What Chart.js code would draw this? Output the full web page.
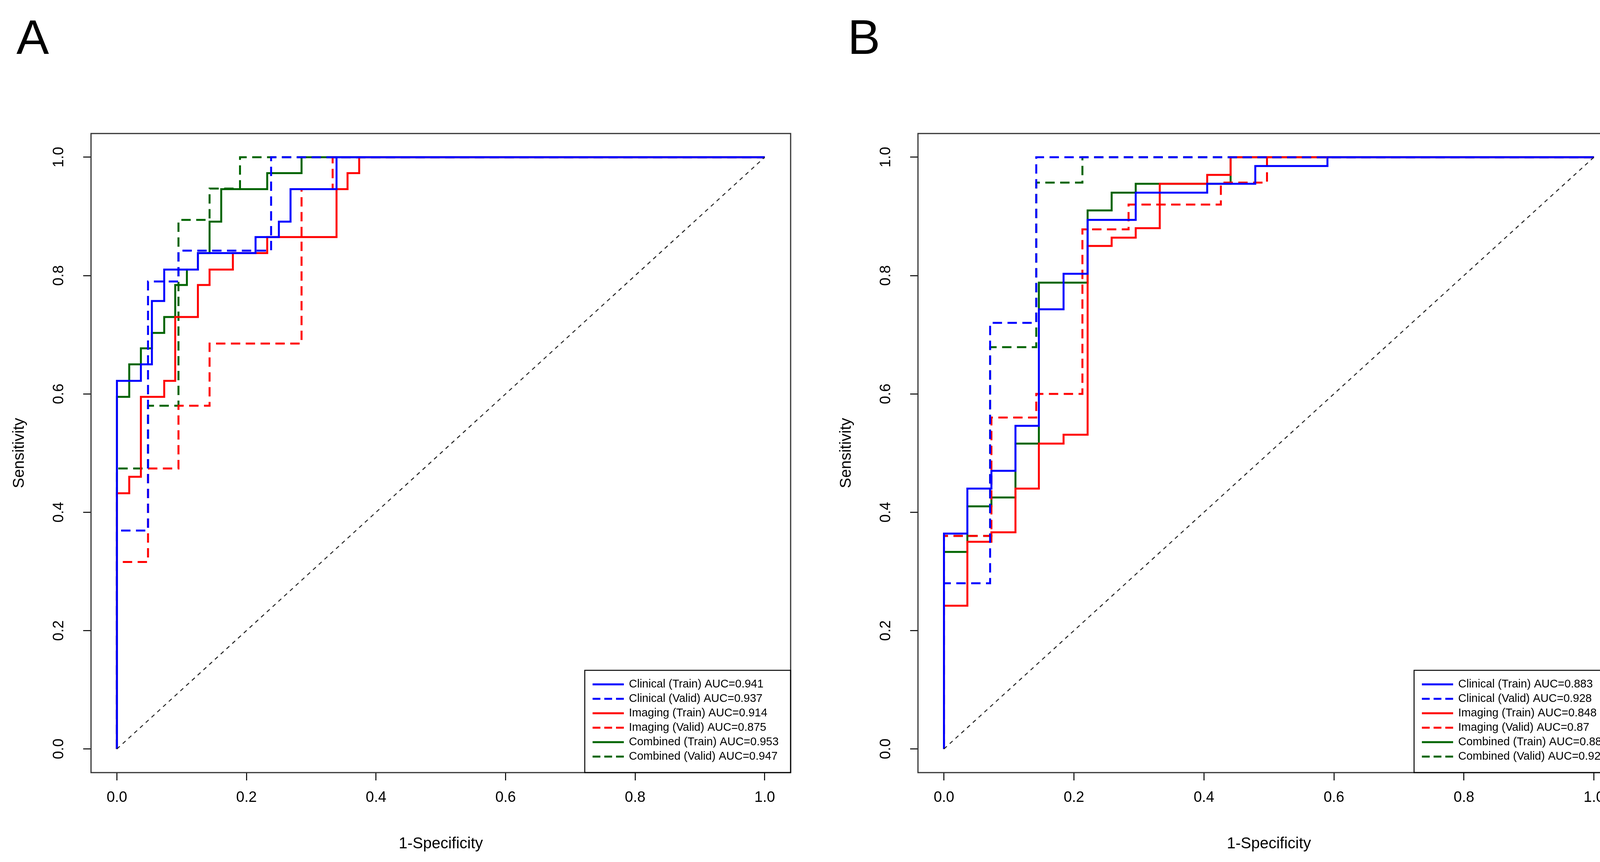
<!DOCTYPE html>
<html><head><meta charset="utf-8">
<script src="https://cdn.jsdelivr.net/npm/chart.js@4"></script>
<style>
body{margin:0;background:#fff;width:4179px;height:2208px;overflow:hidden;position:relative;font-family:"Liberation Sans",Arial,sans-serif}
canvas{position:absolute;top:0}
.lab{position:absolute;font-size:125px;color:#000;line-height:1}
</style></head><body>
<div class="lab" style="left:42px;top:32px">A</div>
<div class="lab" style="left:2170px;top:32px">B</div>
<canvas id="a" width="2090" height="2208" style="left:0"></canvas>
<canvas id="b" width="2062" height="2208" style="left:2117px"></canvas>
<script>
const tickValues=[0,0.2,0.4,0.6,0.8,1.0];
const labelsA=["Clinical (Train) AUC=0.941","Clinical (Valid) AUC=0.937","Imaging (Train) AUC=0.914","Imaging (Valid) AUC=0.875","Combined (Train) AUC=0.953","Combined (Valid) AUC=0.947"];
const labelsB=["Clinical (Train) AUC=0.883","Clinical (Valid) AUC=0.928","Imaging (Train) AUC=0.848","Imaging (Valid) AUC=0.87","Combined (Train) AUC=0.886","Combined (Valid) AUC=0.928"];
// Panel A
const A_clinTrain_fpr=[0,0,0.037,0.054,0.073,0.125,0.214,0.25,0.268,0.339,1];
const A_clinTrain_tpr=[0,0.622,0.65,0.757,0.81,0.838,0.865,0.891,0.946,1,1];
const A_clinValid_fpr=[0,0,0.048,0.095,0.238,1];
const A_clinValid_tpr=[0,0.369,0.79,0.842,1,1];
const A_imgTrain_fpr=[0,0,0.019,0.037,0.073,0.09,0.125,0.143,0.179,0.232,0.339,0.356,0.374,1];
const A_imgTrain_tpr=[0,0.432,0.46,0.595,0.622,0.73,0.784,0.81,0.838,0.865,0.946,0.973,1,1];
const A_imgValid_fpr=[0,0,0.048,0.095,0.143,0.285,0.333,1];
const A_imgValid_tpr=[0,0.316,0.474,0.58,0.685,0.946,1,1];
const A_combTrain_fpr=[0,0,0.019,0.037,0.054,0.073,0.09,0.108,0.125,0.143,0.161,0.232,0.285,1];
const A_combTrain_tpr=[0,0.595,0.65,0.677,0.703,0.73,0.784,0.81,0.838,0.891,0.946,0.973,1,1];
const A_combValid_fpr=[0,0,0.048,0.095,0.143,0.19,1];
const A_combValid_tpr=[0,0.474,0.58,0.894,0.947,1,1];
// Panel B
const B_clinTrain_fpr=[0,0,0.036,0.073,0.110,0.146,0.184,0.221,0.295,0.405,0.479,0.59,1];
const B_clinTrain_tpr=[0,0.364,0.44,0.47,0.546,0.743,0.803,0.894,0.94,0.955,0.985,1,1];
const B_clinValid_fpr=[0,0,0.071,0.142,1];
const B_clinValid_tpr=[0,0.28,0.72,1,1];
const B_imgTrain_fpr=[0,0,0.036,0.073,0.110,0.146,0.184,0.221,0.258,0.295,0.332,0.405,0.441,1];
const B_imgTrain_tpr=[0,0.242,0.35,0.366,0.44,0.516,0.531,0.85,0.864,0.88,0.955,0.97,1,1];
const B_imgValid_fpr=[0,0,0.073,0.142,0.213,0.284,0.426,0.497,1];
const B_imgValid_tpr=[0,0.36,0.56,0.60,0.878,0.92,0.957,1,1];
const B_combTrain_fpr=[0,0,0.036,0.073,0.110,0.146,0.221,0.258,0.295,0.441,1];
const B_combTrain_tpr=[0,0.333,0.41,0.425,0.516,0.788,0.91,0.94,0.955,1,1];
const B_combValid_fpr=[0,0,0.071,0.142,0.213,1];
const B_combValid_tpr=[0,0.36,0.679,0.957,1,1];
const diag=[0,1];

const FONT='"Liberation Sans", Arial, sans-serif';
const pts=(xs,ys)=>xs.map((x,i)=>({x,y:ys[i]}));
const styles=[["#0000FF",[]],["#0000FF",[24,14]],["#FF0000",[]],["#FF0000",[24,14]],["#006400",[]],["#006400",[24,14]]];

function build(id,labels,series,padRight){
  const ds=series.map((s,i)=>({label:labels[i],data:pts(s[0],s[1]),borderColor:styles[i][0],borderDash:styles[i][1],borderWidth:5,stepped:'before',pointRadius:0,fill:false}));
  ds.unshift({label:'_diag',data:pts(diag,diag),borderColor:'#222',borderDash:[10,10],borderWidth:2.5,pointRadius:0});
  const plugin={id:'extra'+id,afterDraw(c){
    const ctx=c.ctx,ca=c.chartArea,ys=c.scales.y;
    ctx.save();
    ctx.strokeStyle='#333';ctx.lineWidth=3;ctx.setLineDash([]);
    ctx.strokeRect(ca.left,ca.top,ca.right-ca.left,ca.bottom-ca.top);
    ctx.fillStyle='#000';ctx.font='38px '+FONT;ctx.textAlign='center';ctx.textBaseline='middle';
    tickValues.forEach(v=>{const y=ys.getPixelForValue(v);ctx.save();ctx.translate(152,y);ctx.rotate(-Math.PI/2);ctx.fillText(v.toFixed(1),0,0);ctx.restore();});
    const rowH=37,w=527,h=262;const lx=ca.right-w,ly=ca.bottom-h;
    ctx.strokeStyle='#000';ctx.lineWidth=2.5;ctx.strokeRect(lx,ly,w,h);
    ctx.font='29px '+FONT;ctx.textAlign='left';
    labels.forEach((t,i)=>{const yy=ly+28+i*rowH+8;ctx.strokeStyle=styles[i][0];ctx.lineWidth=5;ctx.setLineDash(styles[i][1].length?[20,10]:[]);
      ctx.beginPath();ctx.moveTo(lx+20,yy);ctx.lineTo(lx+100,yy);ctx.stroke();ctx.setLineDash([]);ctx.fillText(t,lx+113,yy);});
    ctx.restore();
  }};
  const tickFix=s=>{s.ticks=tickValues.map(v=>({value:v}));};
  new Chart(document.getElementById(id),{type:'line',data:{datasets:ds},plugins:[plugin],
    options:{responsive:false,animation:false,devicePixelRatio:1,
      layout:{padding:{left:0,top:342,right:padRight,bottom:0}},
      plugins:{legend:{display:false},tooltip:{enabled:false}},
      scales:{
        x:{type:'linear',min:-0.04,max:1.04,afterBuildTicks:tickFix,afterFit:s=>{s.height=229;},
          grid:{drawOnChartArea:false,drawTicks:true,tickLength:20,color:'#000',lineWidth:2.5},border:{display:false},
          ticks:{padding:22,color:'#000',font:{size:38,family:FONT},callback:v=>Number(v).toFixed(1),maxRotation:0},
          title:{display:true,text:'1-Specificity',color:'#000',font:{size:40,family:FONT},padding:{top:0,bottom:22}}},
        y:{type:'linear',min:-0.04,max:1.04,afterBuildTicks:tickFix,afterFit:s=>{s.width=233;},
          grid:{drawOnChartArea:false,drawTicks:true,tickLength:20,color:'#000',lineWidth:2.5},border:{display:false},
          ticks:{color:'rgba(0,0,0,0)',font:{size:38,family:FONT},callback:v=>''},
          title:{display:true,text:'Sensitivity',color:'#000',font:{size:40,family:FONT},padding:{top:26,bottom:0}}}
      }}});
}
build('a',labelsA,[[A_clinTrain_fpr,A_clinTrain_tpr],[A_clinValid_fpr,A_clinValid_tpr],[A_imgTrain_fpr,A_imgTrain_tpr],[A_imgValid_fpr,A_imgValid_tpr],[A_combTrain_fpr,A_combTrain_tpr],[A_combValid_fpr,A_combValid_tpr]],66);
build('b',labelsB,[[B_clinTrain_fpr,B_clinTrain_tpr],[B_clinValid_fpr,B_clinValid_tpr],[B_imgTrain_fpr,B_imgTrain_tpr],[B_imgValid_fpr,B_imgValid_tpr],[B_combTrain_fpr,B_combTrain_tpr],[B_combValid_fpr,B_combValid_tpr]],32);
</script></body></html>
